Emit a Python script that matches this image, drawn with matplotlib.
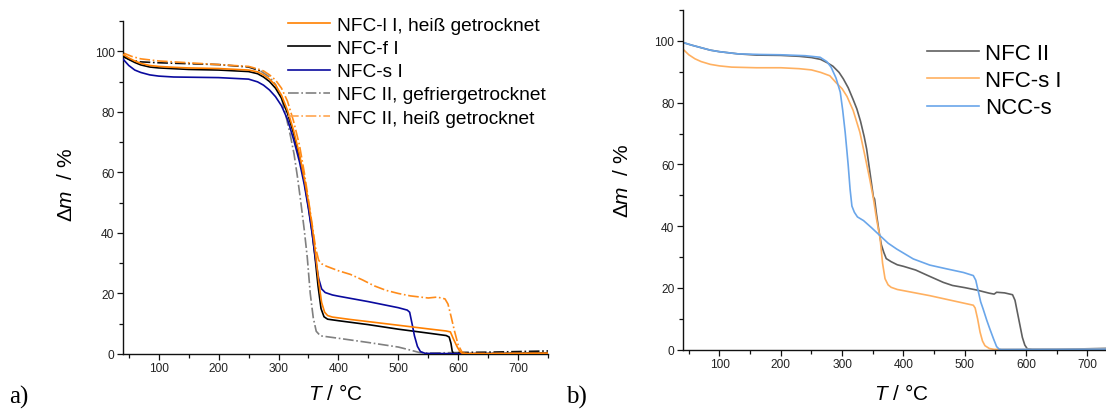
import numpy as np
import matplotlib
matplotlib.use("Agg")
import matplotlib.pyplot as plt
from matplotlib.ticker import MultipleLocator
from matplotlib.lines import Line2D

plt.rcParams['font.family'] = ['Liberation Sans', 'DejaVu Sans']
plt.rcParams['mathtext.fontset'] = 'custom'
plt.rcParams['mathtext.rm'] = 'Liberation Sans'
plt.rcParams['mathtext.it'] = 'Liberation Sans:italic'

# ---------------- Panel a) data ----------------
a_l1_T = [40, 50, 60, 70, 85, 100, 125, 150, 200, 250, 265, 275, 285, 295, 305, 315, 325, 335, 344,
          351, 357, 362, 367, 372, 377, 382, 390, 420, 450, 500, 550, 580, 587, 592, 598, 603, 607,
          620, 650, 700, 750]
a_l1_m = [99.0, 97.8, 96.8, 96.0, 95.3, 95.0, 94.7, 94.5, 94.3, 93.8, 93.2, 92.2, 90.8, 88.8, 85.5,
          80.5, 74.0, 66.0, 57.0, 49.0, 41.0, 33.0, 24.0, 17.0, 13.8, 12.7, 12.2, 11.4, 10.7, 9.5,
          8.3, 7.6, 7.3, 5.0, 2.5, 0.8, 0.2, 0.1, 0.1, 0.2, 0.3]

a_f1_T = [40, 50, 60, 70, 85, 100, 150, 200, 250, 265, 275, 285, 295, 305, 315, 325, 335, 343, 350,
          356, 361, 366, 371, 376, 382, 400, 450, 500, 550, 580, 585, 588, 590, 592, 620, 700, 750]
a_f1_m = [98.5, 97.3, 96.3, 95.5, 94.8, 94.5, 94.0, 93.8, 93.3, 92.6, 91.5, 90.0, 87.8, 84.5, 79.5,
          73.0, 65.0, 57.0, 48.5, 40.5, 32.0, 22.5, 15.0, 12.3, 11.5, 11.0, 9.7, 8.2, 6.9, 6.1, 5.6,
          3.5, 1.0, 0.2, 0.1, 0.2, 0.3]

a_s1_T = [40, 50, 60, 70, 85, 100, 125, 200, 250, 265, 275, 285, 295, 305, 315, 325, 335, 343, 350,
          356, 362, 367, 372, 378, 390, 400, 450, 500, 515, 519, 523, 527, 532, 537, 545, 600, 750]
a_s1_m = [97.5, 95.3, 93.8, 93.0, 92.2, 91.8, 91.5, 91.3, 90.8, 89.9, 88.8, 87.2, 85.0, 82.0, 77.5,
          71.0, 63.5, 56.0, 48.0, 40.0, 31.0, 25.0, 21.5, 20.3, 19.5, 19.1, 17.3, 15.3, 14.5, 13.8,
          10.0, 6.0, 2.5, 0.8, 0.2, 0.1, 0.1]

a_g2_T = [40, 55, 70, 100, 150, 200, 250, 270, 285, 295, 305, 312, 320, 326, 332, 338, 343, 348,
          353, 358, 363, 370, 400, 450, 500, 520, 535, 550, 600, 650, 700, 750]
a_g2_m = [98.2, 97.0, 96.5, 96.2, 95.9, 95.6, 94.8, 93.5, 91.5, 89.0, 84.5, 79.0, 72.0, 66.0, 58.0,
          49.0, 41.0, 32.0, 20.0, 12.0, 7.5, 6.0, 5.2, 3.8, 2.3, 1.3, 0.5, 0.3, 0.5, 0.6, 0.8, 1.0]

a_h2_T = [40, 55, 70, 100, 150, 200, 250, 265, 275, 285, 295, 305, 315, 325, 335, 343, 350, 356,
          362, 367, 372, 380, 400, 420, 440, 460, 480, 500, 520, 550, 565, 578, 583, 588, 594, 600,
          606, 612, 650, 700, 750]
a_h2_m = [99.5, 98.3, 97.5, 96.8, 96.2, 95.6, 95.0, 94.2, 93.5, 92.2, 90.5, 87.8, 83.5, 77.0, 69.0,
          60.0, 51.0, 43.0, 35.0, 31.0, 29.8, 29.0, 27.5, 26.3, 24.5, 22.5, 21.0, 20.0, 19.2, 18.5,
          18.8, 18.2, 16.5, 12.5, 7.5, 3.0, 0.8, 0.2, 0.2, 0.3, 0.4]

a_labels = ["NFC-l I, heiß getrocknet", "NFC-f I", "NFC-s I",
            "NFC II, gefriergetrocknet", "NFC II, heiß getrocknet"]

# ---------------- Panel b) data ----------------
b_n2_T = [40, 55, 70, 85, 100, 130, 160, 200, 230, 250, 265, 275, 285, 295, 302, 310, 318, 324, 330,
          336, 340, 345, 351, 353, 356, 360, 364, 368, 372, 380, 390, 400, 420, 440, 465, 480, 500,
          520, 540, 548, 552, 565, 578, 582, 586, 590, 594, 598, 602, 610, 650, 700, 750]
b_n2_m = [99.5, 98.6, 97.8, 97.0, 96.5, 95.8, 95.4, 95.3, 95.0, 94.6, 94.0, 93.0, 91.8, 89.8, 87.7,
          84.8, 81.0, 78.0, 74.0, 69.0, 65.0, 58.0, 49.5, 48.8, 44.0, 38.5, 34.0, 31.5, 29.5, 28.5,
          27.5, 27.0, 25.8, 24.0, 21.8, 20.8, 20.1, 19.3, 18.3, 18.0, 18.6, 18.4, 17.8, 16.0, 12.0,
          8.0, 4.0, 1.5, 0.3, 0.1, 0.1, 0.3, 0.5]

b_s1_T = [40, 50, 60, 70, 85, 100, 120, 160, 200, 230, 250, 265, 280, 290, 300, 308, 318, 329, 337,
          345, 351, 356, 362, 366, 370, 375, 380, 390, 443, 498, 514, 517, 521, 525, 529, 533, 540,
          548, 600, 750]
b_s1_m = [97.4, 95.5, 94.2, 93.3, 92.4, 91.9, 91.5, 91.3, 91.3, 91.0, 90.6, 89.8, 88.7, 86.5, 84.5,
          82.0, 77.5, 70.4, 63.0, 55.3, 49.0, 42.5, 36.0, 28.0, 23.0, 21.0, 20.2, 19.5, 17.5, 15.1,
          14.4, 13.5, 10.0, 5.7, 2.8, 1.3, 0.4, 0.1, 0.1, 0.2]

b_cs_T = [40, 55, 70, 85, 100, 130, 166, 200, 240, 264, 275, 282, 290, 297, 301, 305, 308, 310, 313,
          316, 320, 325, 335, 348, 362, 375, 389, 400, 416, 443, 470, 498, 514, 518, 522, 526, 530,
          536, 541, 547, 552, 556, 560, 750]
b_cs_m = [99.5, 98.6, 97.8, 97.0, 96.5, 95.8, 95.6, 95.5, 95.2, 94.7, 93.3, 91.5, 88.0, 83.4, 77.5,
          70.4, 64.0, 59.6, 52.0, 46.5, 44.5, 43.0, 41.8, 39.5, 36.9, 34.5, 32.6, 31.3, 29.4, 27.4,
          26.2, 25.0, 24.0, 22.5, 19.0, 15.5, 13.2, 9.5, 6.7, 3.5, 1.0, 0.2, 0.1, 0.2]

b_labels = ["NFC II", "NFC-s I", "NCC-s"]

# ---------------- Figure ----------------
W, H = 1106, 410
fig = plt.figure(figsize=(W / 100, H / 100), dpi=100)

def px_axes(x0, x1, ytop, ybot):
    return [x0 / W, 1 - ybot / H, (x1 - x0) / W, (ybot - ytop) / H]

axa = fig.add_axes(px_axes(122.8, 548.0, 22.0, 355.0))
axb = fig.add_axes(px_axes(682.7, 1118.0, 11.0, 350.7))

def style(ax):
    ax.set_xlim(40, 750)
    ax.set_ylim(0, 110)
    for s in ('top', 'right'):
        ax.spines[s].set_visible(False)
    for s in ('left', 'bottom'):
        ax.spines[s].set_linewidth(1.0)
        ax.spines[s].set_color('#111111')
    ax.xaxis.set_major_locator(MultipleLocator(100))
    ax.xaxis.set_minor_locator(MultipleLocator(50))
    ax.yaxis.set_major_locator(MultipleLocator(20))
    ax.yaxis.set_minor_locator(MultipleLocator(10))
    ax.tick_params(which='major', direction='out', length=4, width=0.9, labelsize=8.6,
                   labelcolor='#222222', pad=2, color='#111111')
    ax.tick_params(which='minor', direction='out', length=3, width=0.9, color='#111111')
    ax.set_xticks([100, 200, 300, 400, 500, 600, 700])
    ax.set_yticks([0, 20, 40, 60, 80, 100])

style(axa)
style(axb)

lw = 1.2
# panel a
axa.plot(a_l1_T, a_l1_m, color='#ff8000', lw=lw, label=a_labels[0], zorder=4)
axa.plot(a_f1_T, a_f1_m, color='#000000', lw=lw, label=a_labels[1], zorder=3)
axa.plot(a_s1_T, a_s1_m, color='#0a0a9e', lw=lw, label=a_labels[2], zorder=3)

gT = np.array(a_g2_T); gm = np.array(a_g2_m)
early = gT <= 275
late = gT >= 600
mid = (gT >= 270) & (gT <= 600)
axa.plot(gT[early], gm[early], color='#111111', lw=lw, ls='-.', zorder=2)
axa.plot(gT[mid], gm[mid], color='#808080', lw=lw, ls='-.', label=a_labels[3], zorder=2)
axa.plot(gT[late], gm[late], color='#111111', lw=lw, ls='-.', zorder=2)

axa.plot(a_h2_T, a_h2_m, color='#ff8c1a', lw=lw, ls='-.', label=a_labels[4], zorder=2)

hA = [Line2D([], [], color='#ff8000', lw=lw),
      Line2D([], [], color='#000000', lw=lw),
      Line2D([], [], color='#0a0a9e', lw=lw),
      Line2D([], [], color='#808080', lw=lw, ls='-.'),
      Line2D([], [], color='#ffa550', lw=lw, ls='-.')]
fig.legend(hA, a_labels, loc='upper left', bbox_to_anchor=(288 / W, 1 - 17.5 / H),
           bbox_transform=fig.transFigure, frameon=False, fontsize=13.8,
           handlelength=2.2, handletextpad=0.35, labelspacing=0.3,
           borderpad=0, borderaxespad=0)

# panel b
cb = ['#606060', '#ffb060', '#6aa6ea']
for T, m, c, lab in zip([b_n2_T, b_s1_T, b_cs_T], [b_n2_m, b_s1_m, b_cs_m], cb, b_labels):
    axb.plot(T, m, color=c, lw=lw, label=lab)
hB = [Line2D([], [], color=c, lw=lw) for c in cb]
fig.legend(hB, b_labels, loc='upper left', bbox_to_anchor=(927 / W, 1 - 44 / H),
           bbox_transform=fig.transFigure, frameon=False, fontsize=16,
           handlelength=2.35, handletextpad=0.25, labelspacing=0.28,
           borderpad=0, borderaxespad=0)

# labels
ylab = r'$\Delta m$  / %'
xlab = r'$T$ / °C'
fig.text(66 / W, 1 - 185 / H, ylab, rotation=90, ha='center', va='center', fontsize=15)
fig.text(335 / W, 1 - 394 / H, xlab, ha='center', va='center', fontsize=15)
fig.text(623 / W, 1 - 181 / H, ylab, rotation=90, ha='center', va='center', fontsize=15)
fig.text(901 / W, 1 - 394 / H, xlab, ha='center', va='center', fontsize=15)

fig.text(9 / W, 1 - 397 / H, 'a)', ha='left', va='center', fontsize=18, family='Liberation Serif')
fig.text(566 / W, 1 - 397 / H, 'b)', ha='left', va='center', fontsize=18, family='Liberation Serif')

fig.savefig('out.png', dpi=100)
